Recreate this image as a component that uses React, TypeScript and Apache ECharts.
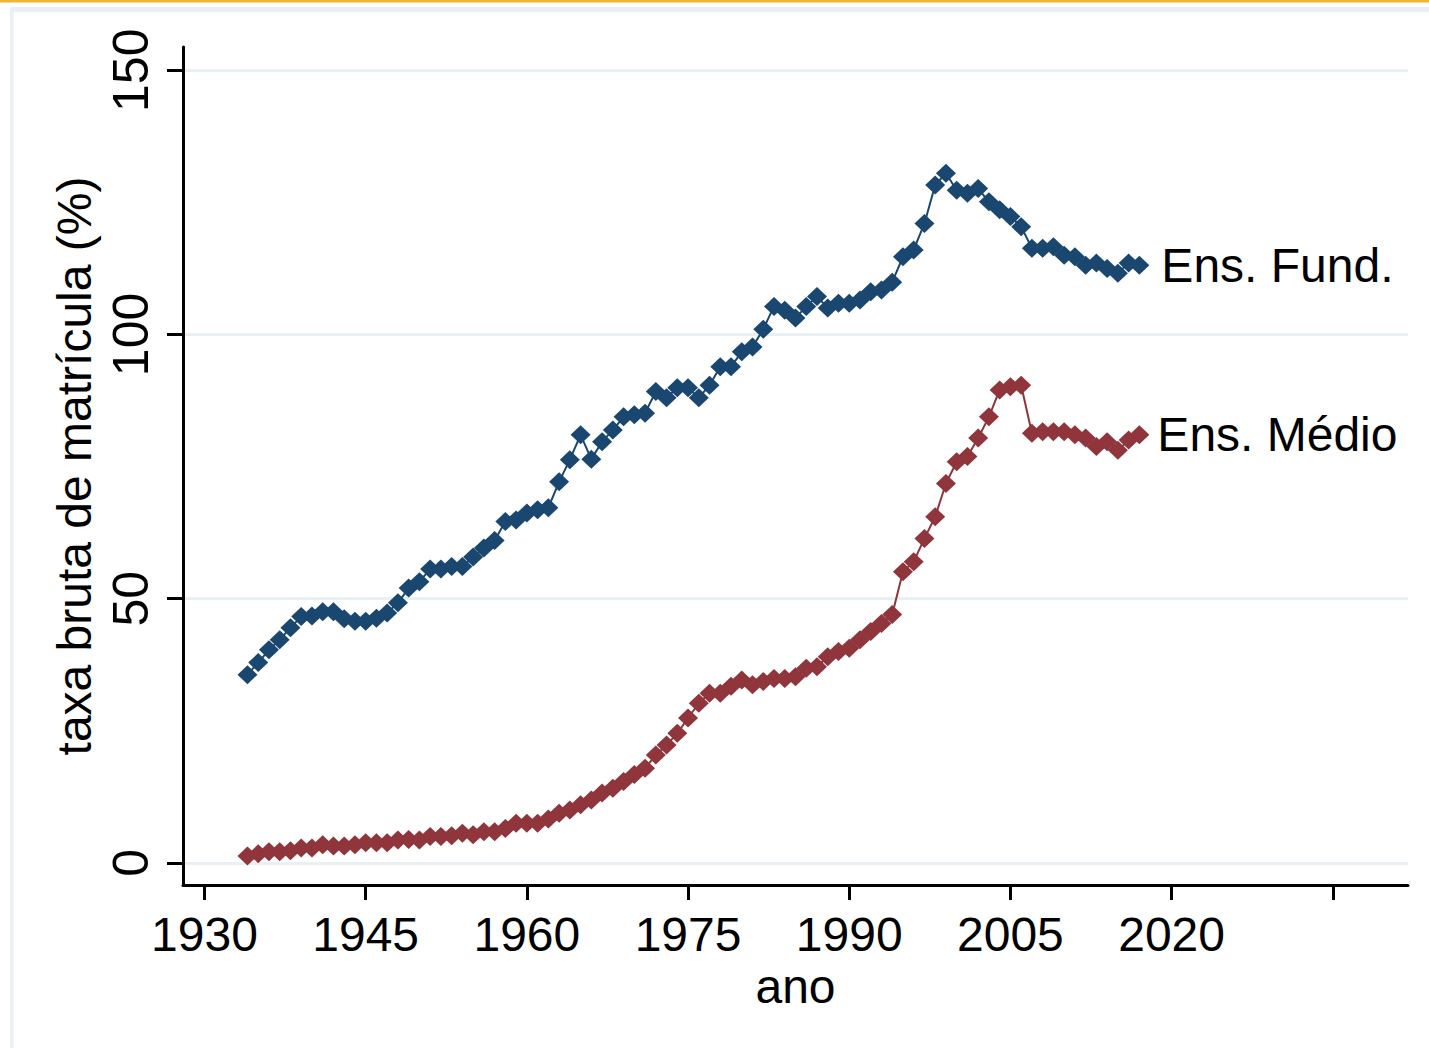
import React, { useEffect, useRef } from "react";
import * as echarts from "echarts";

const years = [
  1934, 1935, 1936, 1937, 1938, 1939, 1940, 1941, 1942, 1943, 1944, 1945,
  1946, 1947, 1948, 1949, 1950, 1951, 1952, 1953, 1954, 1955, 1956, 1957,
  1958, 1959, 1960, 1961, 1962, 1963, 1964, 1965, 1966, 1967, 1968, 1969,
  1970, 1971, 1972, 1973, 1974, 1975, 1976, 1977, 1978, 1979, 1980, 1981,
  1982, 1983, 1984, 1985, 1986, 1987, 1988, 1989, 1990, 1991, 1992, 1993,
  1994, 1995, 1996, 1997, 1998, 1999, 2000, 2001, 2002, 2003, 2004, 2005,
  2006, 2007, 2008, 2009, 2010, 2011, 2012, 2013, 2014, 2015, 2016, 2017,
];

const ensFund = [
  35.6, 37.9, 40.3, 42.2, 44.5, 46.6, 46.7, 47.5, 47.5, 46.2, 45.7, 45.7,
  46.3, 47.3, 49.2, 52.0, 53.2, 55.6, 55.6, 56.1, 56.1, 57.9, 59.6, 61.0,
  64.6, 64.9, 66.2, 66.8, 67.2, 72.1, 76.3, 81.0, 76.4, 79.7, 81.9, 84.4,
  84.8, 85.1, 89.2, 88.0, 89.9, 89.9, 88.0, 90.4, 93.9, 93.9, 96.7, 97.6,
  101.0, 105.3, 104.6, 103.1, 105.3, 107.2, 105.0, 105.9, 105.9, 106.5, 108.1, 108.4,
  109.9, 114.7, 116.0, 121.0, 128.3, 130.5, 127.3, 126.7, 127.6, 125.1, 123.6, 122.3,
  120.4, 116.3, 116.3, 116.6, 115.0, 114.7, 113.1, 113.5, 112.5, 111.6, 113.5, 113.1,
];

const ensMedio = [
  1.3, 1.7, 2.1, 2.1, 2.3, 2.8, 2.8, 3.4, 3.2, 3.2, 3.4, 3.8,
  3.8, 3.8, 4.3, 4.4, 4.3, 5.0, 5.0, 5.1, 5.6, 5.3, 5.9, 5.9,
  6.5, 7.5, 7.5, 7.5, 8.3, 9.4, 10.0, 11.0, 11.9, 13.2, 14.1, 15.4,
  16.7, 17.9, 20.4, 22.3, 24.5, 27.4, 30.2, 32.1, 32.1, 33.4, 34.6, 33.7,
  34.3, 34.9, 34.9, 35.2, 36.8, 37.1, 39.0, 40.0, 40.6, 42.2, 43.8, 45.3,
  47.0, 55.1, 57.0, 61.4, 65.5, 71.8, 75.9, 76.9, 80.4, 84.4, 89.5, 90.1,
  90.4, 81.3, 81.6, 81.6, 81.6, 81.0, 80.4, 78.8, 79.7, 78.1, 80.0, 81.0,
];

const xTicks = [1930, 1945, 1960, 1975, 1990, 2005, 2020, 2035];
const xLabels = [1930, 1945, 1960, 1975, 1990, 2005, 2020];
const yTicks = [0, 50, 100, 150];

const seriesNames = ["Ens. Fund.", "Ens. Médio"];
const xTitle = "ano";
const yTitle = "taxa bruta de matrícula (%)";

const FONT = "'Liberation Sans', Arial, Helvetica, sans-serif";
const BLUE = "#1a476f";
const RED = "#90353b";
const GRID_COLOR = "#e9f0f3";

export default function App() {
  const ref = useRef<HTMLDivElement>(null);

  useEffect(() => {
    if (!ref.current) return;
    const chart = echarts.init(ref.current, undefined, { renderer: "svg" });

    const mk = (vals: number[]) => years.map((y, i) => [y, vals[i]]);

    const option: any = {
      animation: false,
      backgroundColor: "#ffffff",
      textStyle: { fontFamily: FONT },
      grid: {
        left: 183,
        right: 21,
        top: 47,
        bottom: 163,
        containLabel: false,
        outerBoundsMode: "none",
      },
      xAxis: {
        type: "value",
        min: 1928,
        max: 2042,
        name: xTitle,
        nameLocation: "middle",
        nameGap: 75,
        nameTextStyle: { fontSize: 48, color: "#000", fontFamily: FONT },
        axisLine: { show: true, onZero: false, lineStyle: { color: "#000", width: 3 } },
        axisTick: {
          show: true,
          length: 15,
          customValues: xTicks,
          lineStyle: { color: "#000", width: 3 },
        },
        axisLabel: {
          show: true,
          customValues: xLabels,
          formatter: (v: number) => String(v),
          fontSize: 48,
          color: "#000",
          margin: 25,
          fontFamily: FONT,
        },
        splitLine: { show: false },
      },
      yAxis: {
        type: "value",
        min: -4.2,
        max: 154.4,
        name: yTitle,
        nameLocation: "middle",
        nameRotate: 90,
        nameGap: 84,
        nameTextStyle: { fontSize: 48, color: "#000", fontFamily: FONT },
        axisLine: { show: true, onZero: false, lineStyle: { color: "#000", width: 3 } },
        axisTick: {
          show: true,
          length: 16,
          customValues: yTicks,
          lineStyle: { color: "#000", width: 3 },
        },
        axisLabel: {
          show: true,
          customValues: yTicks,
          rotate: 90,
          formatter: (v: number) => String(v),
          fontSize: 50,
          color: "#000",
          margin: 27,
          fontFamily: FONT,
        },
        splitLine: {
          show: true,
          lineStyle: { color: GRID_COLOR, width: 3 },
        },
      },
      graphic: [
        {
          type: "rect",
          shape: { x: 0, y: 0, width: 1429, height: 2.5 },
          style: { fill: "#f0b436" },
          silent: true,
        },
        {
          type: "rect",
          shape: { x: 10, y: 7, width: 1419, height: 5 },
          style: { fill: GRID_COLOR },
          silent: true,
        },
        {
          type: "rect",
          shape: { x: 10, y: 7, width: 3.5, height: 1041 },
          style: { fill: GRID_COLOR },
          silent: true,
        },
      ],
      series: [
        {
          name: seriesNames[0],
          type: "line",
          data: mk(ensFund),
          symbol: "diamond",
          symbolSize: [20, 19],
          showSymbol: true,
          itemStyle: { color: BLUE },
          lineStyle: { color: BLUE, width: 2 },
          endLabel: {
            show: true,
            formatter: seriesNames[0],
            fontSize: 48,
            color: "#000",
            distance: 22,
            fontFamily: FONT,
          },
          z: 3,
        },
        {
          name: seriesNames[1],
          type: "line",
          data: mk(ensMedio),
          symbol: "diamond",
          symbolSize: [20, 19],
          showSymbol: true,
          itemStyle: { color: RED },
          lineStyle: { color: RED, width: 2 },
          endLabel: {
            show: true,
            formatter: seriesNames[1],
            fontSize: 48,
            color: "#000",
            distance: 18,
            fontFamily: FONT,
          },
          z: 3,
        },
      ],
    };

    chart.setOption(option);
    return () => {
      chart.dispose();
    };
  }, []);

  return (
    <div
      ref={ref}
      style={{ position: "absolute", left: 0, top: 0, width: 1429, height: 1048 }}
    />
  );
}
